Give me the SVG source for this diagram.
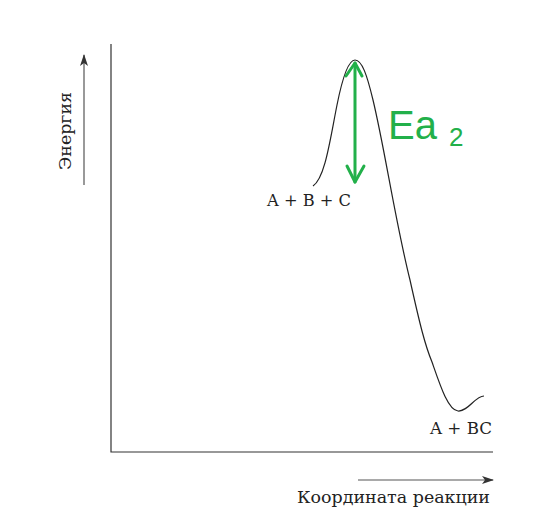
<svg xmlns="http://www.w3.org/2000/svg" width="546" height="525" viewBox="0 0 546 525">
<style>
.lbl{font-family:"DejaVu Serif","Liberation Serif",serif;font-size:16px;fill:#222}
.ax{stroke:#333;stroke-width:1.2;fill:none}
.gr{stroke:#22b04a;stroke-width:3;fill:none;stroke-linecap:round;stroke-linejoin:round}
</style>
<defs>
<marker id="ah" markerWidth="12" markerHeight="8" refX="11" refY="4" orient="auto" markerUnits="userSpaceOnUse">
<path d="M0,0 L12,4 L0,8 L3,4 Z" fill="#333"/>
</marker>
</defs>
<rect width="546" height="525" fill="#fff"/>
<g id="axes">
<path class="ax" d="M111,44 V452 H493"/>
</g>
<g id="connectors">
<line x1="84" y1="185" x2="84" y2="55" stroke="#555" stroke-width="1.2" marker-end="url(#ah)"/>
<line x1="358" y1="480" x2="493" y2="480" stroke="#555" stroke-width="1.2" marker-end="url(#ah)"/>
<path d="M313,186 C325,178 330,140 337,105 C343,75 349,60 355,60 C362,60 367,75 373,100 C385,150 395,220 410,280 C420,325 425,345 432,362 C440,385 448,410 458,411 C468,412 475,396 484,396" fill="none" stroke="#222" stroke-width="1.2"/>
<g class="gr">
<line x1="355" y1="63" x2="355" y2="182"/>
<path d="M346,76 L355,63 L362,76"/>
<path d="M347,166 L355,182 L364,166"/>
</g>
</g>
<g id="labels">
<text class="lbl" transform="translate(71,131) rotate(-90)" text-anchor="middle" textLength="78" lengthAdjust="spacingAndGlyphs">Энергия</text>
<text class="lbl" x="297" y="503" textLength="193" lengthAdjust="spacingAndGlyphs">Координата реакции</text>
<text class="lbl" x="267" y="206" textLength="84" lengthAdjust="spacingAndGlyphs">A + B + C</text>
<text class="lbl" x="430" y="434" textLength="62" lengthAdjust="spacingAndGlyphs">A + BC</text>
<text x="388" y="139" font-family="Liberation Sans, sans-serif" font-size="40" fill="#22b04a">Ea</text>
<text x="449" y="146" font-family="Liberation Sans, sans-serif" font-size="26" fill="#22b04a">2</text>
</g>
</svg>
